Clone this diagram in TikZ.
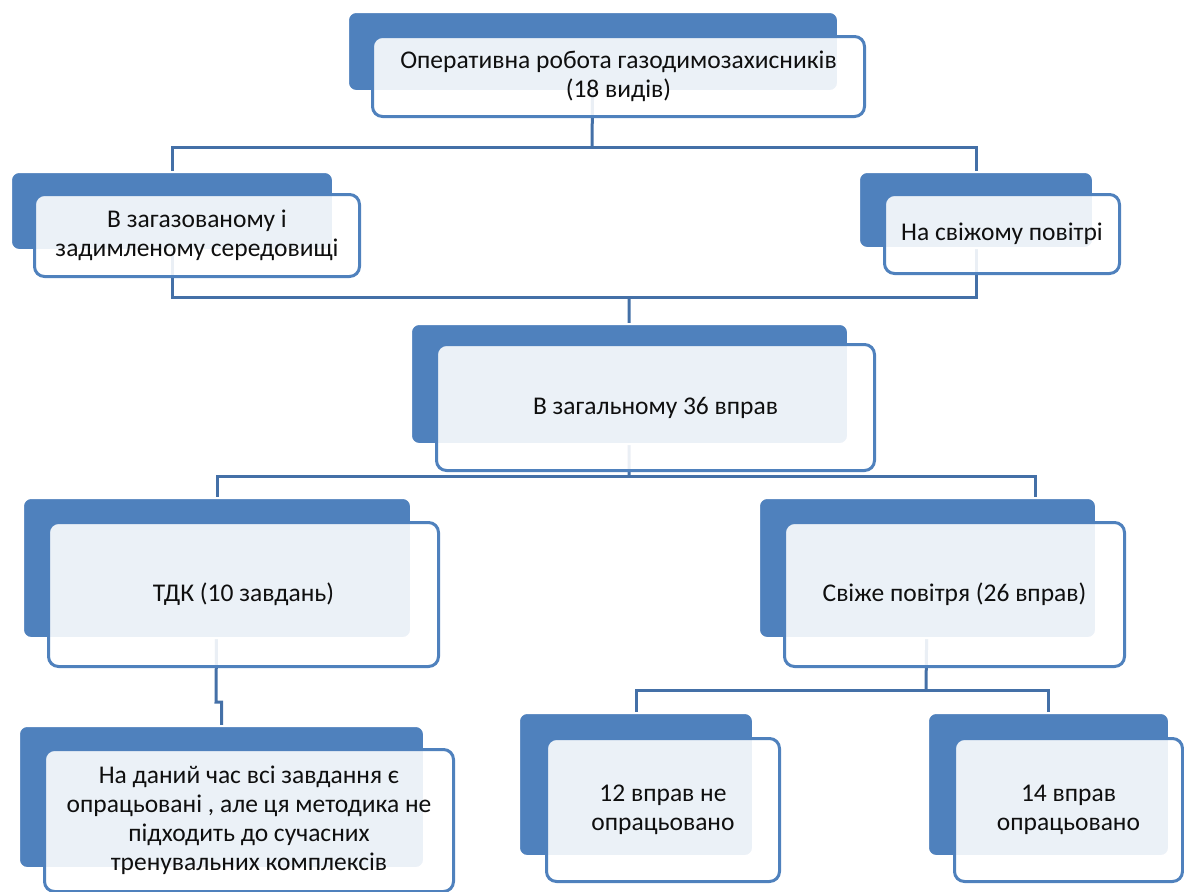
\documentclass[tikz,border=0pt]{standalone}
\usepackage{fontspec}
\setmainfont{Carlito}
\usepackage{tikz}
\usetikzlibrary{positioning,calc,backgrounds}
\definecolor{smblue}{RGB}{79,129,189}
\definecolor{smline}{RGB}{68,112,167}
\definecolor{smtext}{RGB}{15,15,15}
\tikzset{
  backbox/.style={rectangle, rounded corners=8pt, fill=smblue, draw=white, line width=2pt,
                  inner sep=0pt, anchor=north west},
  frontbox/.style={rectangle, rounded corners=10pt, draw=smblue, line width=3pt, fill=white,
                   fill opacity=0.89, text opacity=1, inner sep=0pt, anchor=north west,
                   align=center, text=smtext, font=\fontsize{25.5}{29}\selectfont},
  conn/.style={draw=smline, line width=3pt}
}

\begin{document}
\begin{tikzpicture}[x=1pt,y=-1pt]
\useasboundingbox (0,0) rectangle (1184,892);
% level 0
\node[backbox, minimum width=490, minimum height=79] (topB) at (347,11) {};
\node[frontbox, minimum width=492, minimum height=80] (top) at (371,35) {Оперативна робота газодимозахисників\\(18 видів)};
% level 1
\node[backbox, minimum width=322, minimum height=78] (gasB) at (10,171) {};
\node[frontbox, minimum width=325, minimum height=82] (gas) at (33,193) {В загазованому і\\задимленому середовищі};
\node[backbox, minimum width=234, minimum height=76] (airB) at (858,171) {};
\node[frontbox, minimum width=235, minimum height=79] (air) at (883,193) {На свіжому повітрі};
% level 2
\node[backbox, minimum width=437, minimum height=120] (totalB) at (410,323) {};
\node[frontbox, minimum width=438, minimum height=126] (total) at (435,343) {В загальному 36 вправ};
% level 3
\node[backbox, minimum width=388, minimum height=140] (tdkB) at (22,497) {};
\node[frontbox, minimum width=390, minimum height=144] (tdk) at (47,521) {ТДК (10 завдань)};
\node[backbox, minimum width=337, minimum height=140] (freshB) at (758,497) {};
\node[frontbox, minimum width=340, minimum height=144] (fresh) at (783,521) {Свіже повітря (26 вправ)};
% level 4
\node[backbox, minimum width=405, minimum height=142] (noteB) at (18,725) {};
\node[frontbox, minimum width=409, minimum height=142] (note) at (43,748) {На даний час всі завдання є\\опрацьовані , але ця методика не\\підходить до сучасних\\тренувальних комплексів};
\node[backbox, minimum width=234, minimum height=143] (n12B) at (518,712) {};
\node[frontbox, minimum width=233, minimum height=143] (n12) at (545,737) {12 вправ не\\опрацьовано};
\node[backbox, minimum width=241, minimum height=143] (n14B) at (927,712) {};
\node[frontbox, minimum width=228, minimum height=143] (n14) at (953,737) {14 вправ\\опрацьовано};
% connectors
\coordinate (split1) at (592,147);
\coordinate (join2) at (629,297);
\coordinate (split3) at (629,476);
\coordinate (freshIn) at ($(freshB.north west)!0.82!(freshB.north east)$);
\coordinate (jog) at (216,702);
\coordinate (split4) at (926,690);
\begin{scope}[on background layer]
\draw[conn] (topB.center) -- (split1);
\draw[conn] (gasB.center) |- (split1) -| (airB.center);
\draw[conn] (gasB.center) |- (join2) -| (airB.center);
\draw[conn] (join2) -- (totalB.center);
\draw[conn] (totalB.center) -- (split3);
\draw[conn] (tdkB.center) |- (split3) -| (freshIn);
\draw[conn] (tdkB.center) -- (jog) -| (noteB.center);
\draw[conn] (freshB.center) -- (split4);
\draw[conn] (n12B.center) |- (split4) -| (n14B.center);
\end{scope}
\end{tikzpicture}
\end{document}
